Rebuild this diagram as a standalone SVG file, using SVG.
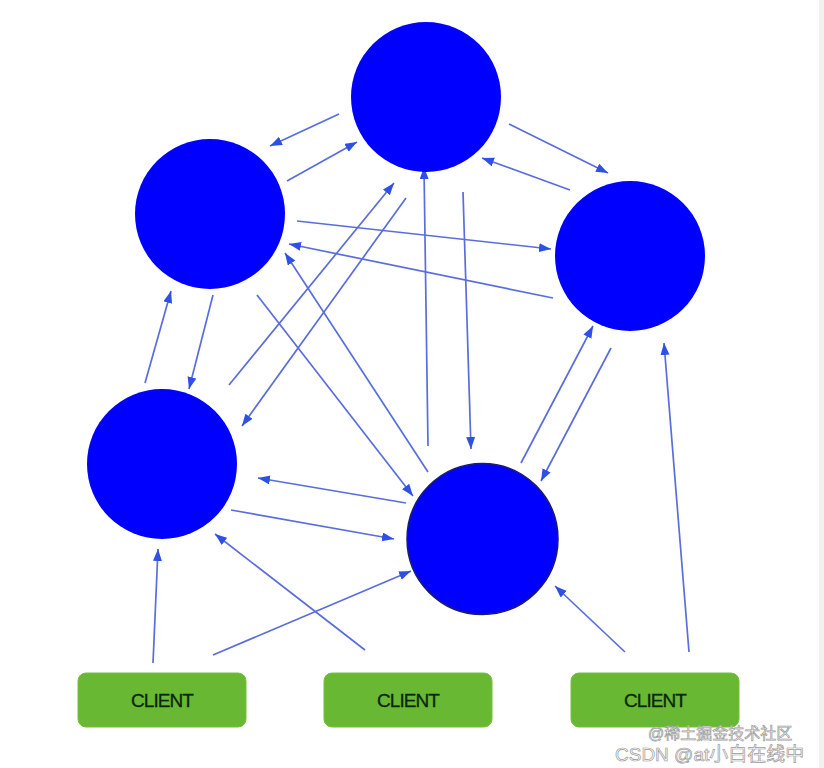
<svg xmlns="http://www.w3.org/2000/svg" width="824" height="768" viewBox="0 0 824 768">
<defs>
<marker id="ah" markerWidth="13" markerHeight="10" refX="12" refY="4.5" orient="auto" markerUnits="userSpaceOnUse">
<path d="M0,0 L12,4.5 L0,9 z" fill="#2f50e4"/>
</marker>
<style>
.node{fill:#0000ff}
.edge{stroke:#5a6ddc;stroke-width:1.7;fill:none;marker-end:url(#ah)}
.client rect{fill:#68b834;stroke:#74c040;stroke-width:1}
.client text{font-family:"Liberation Sans",Arial,sans-serif;font-size:19px;fill:#0a2606;text-anchor:middle;letter-spacing:-0.9px;stroke:#0a2606;stroke-width:0.3}
.wm{font-family:"Liberation Sans","Noto Sans CJK SC",sans-serif;fill:#ffffff;stroke:#9a9a9a;stroke-width:0.7}
</style>
</defs>
<rect x="0" y="0" width="824" height="768" fill="#ffffff"/>
<rect x="819" y="0" width="5" height="768" fill="#f2f2f2"/>
<g id="connectors">
<line class="edge" x1="339" y1="114" x2="270" y2="146"/>
<line class="edge" x1="287" y1="181" x2="357" y2="142"/>
<line class="edge" x1="509" y1="124" x2="608" y2="173"/>
<line class="edge" x1="570" y1="190" x2="482" y2="158"/>
<line class="edge" x1="297" y1="221" x2="551" y2="249"/>
<line class="edge" x1="553" y1="298" x2="289" y2="244"/>
<line class="edge" x1="229" y1="385" x2="394" y2="183"/>
<line class="edge" x1="406" y1="198" x2="242" y2="426"/>
<line class="edge" x1="428" y1="446" x2="424" y2="167"/>
<line class="edge" x1="463" y1="192" x2="471" y2="449"/>
<line class="edge" x1="257" y1="295" x2="413" y2="496"/>
<line class="edge" x1="428" y1="472" x2="285" y2="253"/>
<line class="edge" x1="213" y1="295" x2="189" y2="389"/>
<line class="edge" x1="145" y1="383" x2="171" y2="291"/>
<line class="edge" x1="406" y1="503" x2="258" y2="478"/>
<line class="edge" x1="231" y1="510" x2="394" y2="539"/>
<line class="edge" x1="611" y1="348" x2="541" y2="481"/>
<line class="edge" x1="521" y1="463" x2="593" y2="326"/>
<line class="edge" x1="153" y1="663" x2="158" y2="549"/>
<line class="edge" x1="213" y1="655" x2="411" y2="571"/>
<line class="edge" x1="365" y1="650" x2="215" y2="534"/>
<line class="edge" x1="625" y1="652" x2="555" y2="586"/>
<line class="edge" x1="689" y1="652" x2="664" y2="343"/>
</g>
<g id="node-top"><circle class="node" cx="426" cy="97" r="75"/></g>
<g id="node-left-upper"><circle class="node" cx="210" cy="214" r="75"/></g>
<g id="node-right"><circle class="node" cx="630" cy="256" r="75"/></g>
<g id="node-left-lower"><circle class="node" cx="162" cy="464" r="75"/></g>
<g id="node-center-lower"><circle class="node" cx="482.5" cy="539" r="75.5" stroke="#1c1c6a" stroke-width="1.5"/></g>
<g id="client-1" class="client"><rect x="78" y="673" width="168" height="54" rx="8"/><text x="162" y="707">CLIENT</text></g>
<g id="client-2" class="client"><rect x="324" y="673" width="168" height="54" rx="8"/><text x="408" y="707">CLIENT</text></g>
<g id="client-3" class="client"><rect x="571" y="673" width="168" height="54" rx="8"/><text x="655" y="707">CLIENT</text></g>
<text class="wm" x="648" y="739" font-size="16">@稀土掘金技术社区</text>
<text class="wm" x="615" y="761" font-size="19">CSDN @at小白在线中</text>
</svg>
